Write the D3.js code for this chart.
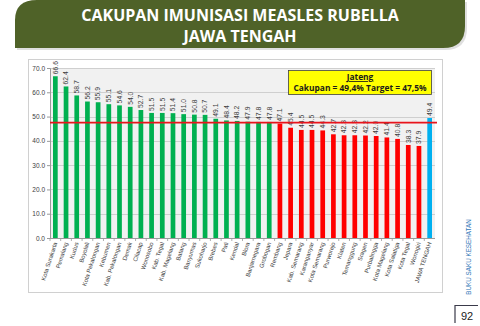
<!DOCTYPE html>
<html>
<head>
<meta charset="utf-8">
<script src="https://cdn.jsdelivr.net/npm/d3@7/dist/d3.min.js"></script>
<style>
  html, body { margin: 0; padding: 0; background: #fff; }
  svg { display: block; }
</style>
</head>
<body>
<svg id="chart" width="480" height="326"></svg>
<script>
// Measles Rubella immunisation coverage (%) per kabupaten/kota, Central Java
const categories = [
  "Kota Surakarta", "Pemalang", "Kudus", "Boyolali", "Kota Pekalongan", "Kebumen",
  "Kab. Pekalongan", "Demak", "Cilacap", "Wonosobo", "Kab. Tegal", "Kab. Magelang",
  "Batang", "Banyumas", "Sukoharjo", "Brebes", "Pati", "Kendal", "Blora",
  "Banjarnegara", "Grobogan", "Rembang", "Jepara", "Kab. Semarang", "Karanganyar",
  "Kota Semarang", "Purworejo", "Klaten", "Temanggung", "Sragen", "Purbalingga",
  "Kota Magelang", "Kota Salatiga", "Kota Tegal", "Wonogiri", "JAWA TENGAH"
];
const coverage = [
  66.6, 62.4, 58.7, 56.2, 55.9, 55.1, 54.6, 54.0, 52.7, 51.5, 51.5, 51.4,
  51.0, 50.8, 50.7, 49.1, 48.4, 48.2, 47.9, 47.8, 47.8, 47.1, 45.4, 44.5,
  44.5, 44.3, 42.7, 42.3, 42.3, 42.2, 42.0, 41.4, 40.8, 38.3, 37.9, 49.4
];
const target = 47.5;
const provinceName = "JAWA TENGAH";
const yTicks = [0, 10, 20, 30, 40, 50, 60, 70];
const titleLines = ["CAKUPAN IMUNISASI MEASLES RUBELLA", "JAWA TENGAH"];

const svg = d3.select("#chart");
const fmt = d3.format(".1f");
const pct = v => d3.format(".1f")(v).replace(".", ",") + "%";

// ---- title banner ----
svg.append("path")
  .attr("d", "M17,50 V20 Q17,2 38,2 H467 V28 Q467,50 445,50 Z")
  .attr("fill", "#c9c9c9").attr("opacity", 0.6);
svg.append("path")
  .attr("d", "M15,48 V20 Q15,0 37,0 H465 V26 Q465,48 443,48 Z")
  .attr("fill", "#4f6228");
svg.append("g").selectAll("text").data(titleLines).join("text")
  .attr("x", 240).attr("y", (d, i) => 21 + i * 21)
  .attr("text-anchor", "middle")
  .attr("fill", "#ffffff")
  .attr("font-family", "'Open Sans', sans-serif")
  .attr("font-weight", 700)
  .attr("font-size", 16)
  .text(d => d);

// ---- chart frame ----
svg.append("rect")
  .attr("x", 28.5).attr("y", 59.5).attr("width", 414).attr("height", 233)
  .attr("fill", "#ffffff").attr("stroke", "#d0d0d0").attr("stroke-width", 1);

const x = d3.scaleBand().domain(categories).range([50, 435]).paddingInner(0.56).paddingOuter(0.28);
const y = d3.scaleLinear().domain([0, 70]).range([238, 68]);

// plot background
svg.append("rect")
  .attr("x", 50).attr("y", y(70)).attr("width", 385).attr("height", y(0) - y(70))
  .attr("fill", "#f1f1f1");

// gridlines
svg.append("g").selectAll("line").data(yTicks.filter(d => d > 0)).join("line")
  .attr("x1", 50).attr("x2", 435)
  .attr("y1", d => Math.round(y(d)) + 0.5).attr("y2", d => Math.round(y(d)) + 0.5)
  .attr("stroke", "#c6c6c6").attr("stroke-width", 0.8);

// y axis
const yAxis = svg.append("g")
  .attr("transform", "translate(50,0)")
  .call(d3.axisLeft(y).tickValues(yTicks).tickFormat(fmt).tickSize(3).tickPadding(2));
yAxis.select(".domain").attr("stroke", "#9a9a9a");
yAxis.selectAll(".tick line").attr("stroke", "#9a9a9a");
yAxis.selectAll("text")
  .attr("fill", "#404040")
  .attr("font-family", "'Liberation Sans', Arial, sans-serif")
  .attr("font-size", 6.5);

// x axis with ticks between categories
const xAxisG = svg.append("g").attr("transform", `translate(0,${y(0)})`);
xAxisG.append("line").attr("x1", 50).attr("x2", 435).attr("y1", 0.5).attr("y2", 0.5)
  .attr("stroke", "#9a9a9a");
xAxisG.selectAll("line.sep").data(categories).join("line").attr("class", "sep")
  .attr("x1", d => x(d) - x.step() * x.paddingInner() / 2)
  .attr("x2", d => x(d) - x.step() * x.paddingInner() / 2)
  .attr("y1", 0).attr("y2", 3)
  .attr("stroke", "#9a9a9a").attr("stroke-width", 0.8);

// bars
const barColor = (d, i) => categories[i] === provinceName ? "#00b0f0"
  : (d >= target ? "#00b050" : "#ff0000");
svg.append("g").selectAll("rect").data(coverage).join("rect")
  .attr("x", (d, i) => x(categories[i]))
  .attr("width", x.bandwidth())
  .attr("y", d => y(d))
  .attr("height", d => y(0) - y(d))
  .attr("fill", barColor);

// value labels (vertical)
svg.append("g").selectAll("text").data(coverage).join("text")
  .attr("transform", (d, i) =>
    `translate(${x(categories[i]) + x.bandwidth() / 2 + 2.3},${y(d) - 2}) rotate(-90)`)
  .attr("fill", "#404040")
  .attr("font-family", "'Liberation Sans', Arial, sans-serif")
  .attr("font-size", 6.8)
  .text(d => fmt(d));

// category labels (slanted)
svg.append("g").selectAll("text").data(categories).join("text")
  .attr("transform", d => `translate(${x(d) + x.bandwidth() / 2 + 2},${y(0) + 5}) rotate(-72)`)
  .attr("text-anchor", "end")
  .attr("fill", "#404040")
  .attr("font-family", "'Liberation Sans', Arial, sans-serif")
  .attr("font-size", 6)
  .text(d => d);

// target line
svg.append("line")
  .attr("x1", 50).attr("x2", 437)
  .attr("y1", y(target)).attr("y2", y(target))
  .attr("stroke", "#e8141c").attr("stroke-width", 1.8);

// summary box
const provinceValue = coverage[categories.indexOf(provinceName)];
const box = svg.append("g");
box.append("rect")
  .attr("x", 288.5).attr("y", 70.5).attr("width", 143).attr("height", 24)
  .attr("fill", "#ffff00").attr("stroke", "#404040").attr("stroke-width", 0.8);
box.append("text")
  .attr("x", 360).attr("y", 80)
  .attr("text-anchor", "middle")
  .attr("font-family", "'Open Sans', sans-serif")
  .attr("font-weight", 700).attr("font-size", 8.4)
  .attr("text-decoration", "underline")
  .attr("fill", "#1a1a1a")
  .text("Jateng");
box.append("text")
  .attr("x", 360).attr("y", 91)
  .attr("text-anchor", "middle")
  .attr("font-family", "'Open Sans', sans-serif")
  .attr("font-weight", 700).attr("font-size", 8.4)
  .attr("fill", "#1a1a1a")
  .text(`Cakupan = ${pct(provinceValue)} Target = ${pct(target)}`);

// side caption and page number
svg.append("text")
  .attr("transform", "translate(471,257) rotate(-90)")
  .attr("text-anchor", "middle")
  .attr("font-family", "'Liberation Sans', Arial, sans-serif")
  .attr("font-size", 6.3)
  .attr("fill", "#2e75b6")
  .text("BUKU SAKU KESEHATAN");
svg.append("path")
  .attr("d", "M455,323 V305.5 H478")
  .attr("fill", "none").attr("stroke", "#3a3a4a").attr("stroke-width", 1.2);
svg.append("text")
  .attr("x", 461).attr("y", 320)
  .attr("font-family", "'Liberation Sans', Arial, sans-serif")
  .attr("font-size", 11)
  .attr("fill", "#222")
  .text("92");
</script>
</body>
</html>
